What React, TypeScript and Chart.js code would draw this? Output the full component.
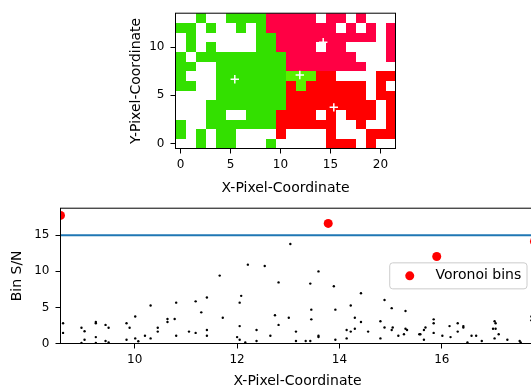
import React, { useEffect, useRef } from 'react';
import { Chart, registerables } from 'chart.js';

Chart.register(...registerables);

const FONT_FAMILY = '"DejaVu Sans", "Liberation Sans", sans-serif';

// ---------- top panel: Voronoi bin map ----------
const mapXTicks = [0, 5, 10, 15, 20];
const mapYTicks = [0, 5, 10];
const mapXRange = [-0.5, 21.5];
const mapYRange = [-0.5, 13.5];
// rows from y = 13 (top) down to y = 0; G green, L light green, C crimson, R red, W empty
const mapRows = [
  'WWGWWGGGGCCCCCWCCWCWWW',
  'GGWGWWGWGCCCCCCCWCWCWC',
  'WGWWWWWWGGCCCCCCCCCCWC',
  'WGWGWWWWGGCCCCWCCWWWWC',
  'GWGGGGGGGGGCCCCCCCWWWC',
  'GGWWGGGGGGGCCCCCCCCWWW',
  'GWWWGGGGGGGLLLRRWWWWRR',
  'GGWWGGGGGGGRLRRRRRRWRW',
  'WWWWGGGGGGGRRRRRRRRWRR',
  'WWWGGGGGGGGRRRRRRRRRWR',
  'WWWGGWWGGGRRRRWRWRRRWR',
  'GWWGGGGGGGRRRRRRWWRWWR',
  'GWGWGGWWWWRWWWWRWWWRRR',
  'WWGWGGWWWGWWWWWRRRWRWW',
];
const binColorKeys = ['G', 'L', 'C', 'R'];
const binColorValues = ['#33e000', '#5af000', '#ff0044', '#ff0000'];
const nodeX = [5.43, 11.93, 14.27, 15.33];
const nodeY = [6.66, 7.1, 10.5, 3.76];

// ---------- bottom panel: S/N per pixel ----------
const pixelX = [
  8.6, 8.6, 8.96, 9.02, 9.02, 8.96, 9.24, 9.24, 9.24, 9.24, 9.43, 9.49, 9.43, 9.49, 9.84, 9.9, 9.84,
  10.01, 10.01, 10.07, 10.2, 10.31, 10.31, 10.45, 10.45, 10.64, 10.64, 10.78, 10.81, 10.81, 11.06,
  11.19, 11.19, 11.3, 11.41, 11.41, 11.41,
  13.04, 12.21, 12.54, 11.66, 13.59, 12.81, 13.43, 13.89, 14.42, 12.08, 12.05, 14.22, 13.45, 13.92,
  12.74, 11.72, 13.01, 13.45, 14.3, 14.42, 12.81, 12.05, 12.38, 13.15, 14.14, 14.22, 14.3, 14.56,
  12.65, 13.59, 13.59, 12.0, 12.05, 12.16, 12.38, 13.15, 13.34, 13.43, 13.92, 14.14,
  14.88, 15.02, 15.29, 14.8, 14.88, 14.8, 15.02, 15.04, 15.15, 15.26, 15.29, 15.32, 15.56, 15.58,
  15.65, 15.68, 15.65, 15.84, 15.84, 15.84, 16.01, 16.15, 16.17, 16.31, 16.31, 16.42, 16.42, 16.5,
  16.58, 16.67, 16.78, 17.03, 17.05, 17.0, 17.05, 17.03, 17.11, 17.28, 17.52, 17.54, 17.75, 17.75,
];
const pixelSN = [
  2.81, 1.47, 2.18, 1.69, 0.53, 0.08, 2.98, 2.8, 0.89, 0.08, 2.58, 2.18, 0.35, 0.13, 2.81, 2.18, 0.53,
  3.75, 0.71, 0.31, 1.07, 5.26, 0.71, 2.18, 1.65, 3.39, 2.98, 3.39, 5.66, 1.07, 1.65,
  5.84, 1.47, 4.32, 6.37, 1.87, 1.07,
  13.79, 10.93, 10.75, 9.41, 9.99, 8.47, 8.3, 7.94, 6.96, 6.6, 5.66, 5.26, 4.69, 4.69,
  3.92, 3.56, 3.56, 3.35, 3.56, 2.98, 2.58, 2.41, 1.87, 1.65, 1.87, 1.65, 2.05, 1.65,
  1.07, 1.07, 0.9, 0.89, 0.53, 0.13, 0.35, 0.35, 0.35, 0.35, 0.53, 0.71,
  6.02, 4.9, 4.5, 3.08, 2.22, 0.71, 1.87, 2.22, 1.07, 1.29, 2.05, 1.87, 1.29, 1.29,
  1.87, 2.22, 0.53, 3.35, 2.81, 1.47, 1.07, 2.41, 0.89, 2.81, 1.65, 2.41, 2.22, 0.13,
  1.07, 1.07, 0.35, 3.08, 2.81, 2.05, 2.05, 0.71, 1.29, 0.53, 0.35, 0.13, 3.75, 3.21,
];
const binX = [8.55, 13.78, 15.9, 17.81];
const binSN = [17.75, 16.64, 12.05, 14.14];
const targetSN = 15;
const snXTicks = [10, 12, 14, 16];
const snYTicks = [0, 5, 10, 15];
const snYMax = 18.75;

const tickFont = { family: FONT_FAMILY, size: 12 };
const labelFont = { family: FONT_FAMILY, size: 14 };

function fixedTicks(values: number[]) {
  return (scale: any) => {
    scale.ticks = values.map((v) => ({ value: v }));
  };
}

const axisGrid = {
  drawOnChartArea: false,
  drawTicks: true,
  tickLength: 5,
  tickColor: '#000',
  tickWidth: 1,
};

const framePlugin = {
  id: 'frame',
  afterDraw(chart: any) {
    const { ctx, chartArea: a } = chart;
    ctx.save();
    ctx.strokeStyle = '#000';
    ctx.lineWidth = 1;
    ctx.strokeRect(a.left, a.top, a.right - a.left, a.bottom - a.top);
    ctx.restore();
  },
};

const mapPlugin = {
  id: 'binMap',
  beforeDatasetsDraw(chart: any) {
    const { ctx, chartArea: a, scales } = chart;
    const xs = scales.x;
    const ys = scales.y;
    ctx.save();
    ctx.beginPath();
    ctx.rect(a.left, a.top, a.right - a.left, a.bottom - a.top);
    ctx.clip();
    const nRows = mapRows.length;
    mapRows.forEach((row, r) => {
      const yv = nRows - 1 - r;
      for (let c = 0; c < row.length; c++) {
        const k = binColorKeys.indexOf(row[c]);
        if (k < 0) continue;
        const x0 = Math.round(xs.getPixelForValue(c - 0.5));
        const x1 = Math.round(xs.getPixelForValue(c + 0.5));
        const y0 = Math.round(ys.getPixelForValue(yv + 0.5));
        const y1 = Math.round(ys.getPixelForValue(yv - 0.5));
        ctx.fillStyle = binColorValues[k];
        ctx.fillRect(x0, y0, x1 - x0, y1 - y0);
      }
    });
    ctx.restore();
  },
};

const legendPlugin = {
  id: 'binLegend',
  afterDraw(chart: any) {
    const { ctx, chartArea: a } = chart;
    const fs = 14.3;
    const text = 'Voronoi bins';
    ctx.save();
    ctx.font = `14px ${FONT_FAMILY}`;
    const tw = ctx.measureText(text).width;
    const w = fs * 0.4 + fs * 2 + fs * 0.8 + tw + fs * 0.4;
    const h = 26;
    const right = a.right - 7.5;
    const left = right - w;
    const cy = (a.top + a.bottom) / 2;
    const top = cy - h / 2;
    const rad = 3;
    ctx.beginPath();
    ctx.moveTo(left + rad, top);
    ctx.lineTo(left + w - rad, top);
    ctx.arcTo(left + w, top, left + w, top + rad, rad);
    ctx.lineTo(left + w, top + h - rad);
    ctx.arcTo(left + w, top + h, left + w - rad, top + h, rad);
    ctx.lineTo(left + rad, top + h);
    ctx.arcTo(left, top + h, left, top + h - rad, rad);
    ctx.lineTo(left, top + rad);
    ctx.arcTo(left, top, left + rad, top, rad);
    ctx.closePath();
    ctx.fillStyle = 'rgba(255,255,255,0.8)';
    ctx.fill();
    ctx.strokeStyle = '#cccccc';
    ctx.lineWidth = 1;
    ctx.stroke();
    ctx.beginPath();
    ctx.arc(left + fs * 0.4 + fs, cy, 4.5, 0, Math.PI * 2);
    ctx.fillStyle = '#ff0000';
    ctx.fill();
    ctx.fillStyle = '#000';
    ctx.textBaseline = 'middle';
    ctx.textAlign = 'left';
    ctx.fillText(text, left + fs * 0.4 + fs * 2 + fs * 0.8, cy);
    ctx.restore();
  },
};

export default function App() {
  const topRef = useRef<HTMLCanvasElement>(null);
  const bottomRef = useRef<HTMLCanvasElement>(null);

  useEffect(() => {
    const topChart = new Chart(topRef.current as HTMLCanvasElement, {
      type: 'scatter',
      data: {
        datasets: [
          {
            label: 'centroids',
            data: nodeX.map((x, i) => ({ x, y: nodeY[i] })),
            pointStyle: 'cross',
            pointRadius: 4.2,
            pointBorderColor: '#ffffff',
            pointBackgroundColor: '#ffffff',
            pointBorderWidth: 1.5,
            clip: 0,
          } as any,
        ],
      },
      options: {
        responsive: false,
        animation: false,
        events: [],
        layout: { padding: { left: 115.5, right: 135.5, top: 8.5, bottom: 3.1 } },
        plugins: { legend: { display: false }, tooltip: { enabled: false } },
        scales: {
          x: {
            type: 'linear',
            min: mapXRange[0],
            max: mapXRange[1],
            afterBuildTicks: fixedTicks(mapXTicks),
            afterFit: (s: any) => {
              s.height = 48.4;
            },
            grid: axisGrid,
            border: { display: false },
            ticks: { color: '#000', font: tickFont, padding: 4, autoSkip: false, maxRotation: 0 },
            title: { display: true, text: 'X-Pixel-Coordinate', color: '#000', font: labelFont, padding: { top: 0, bottom: 0 } },
          },
          y: {
            type: 'linear',
            min: mapYRange[0],
            max: mapYRange[1],
            afterBuildTicks: fixedTicks(mapYTicks),
            afterFit: (s: any) => {
              s.width = 60;
            },
            grid: axisGrid,
            border: { display: false },
            ticks: { color: '#000', font: tickFont, padding: 6, autoSkip: false },
            title: { display: true, text: 'Y-Pixel-Coordinate', color: '#000', font: labelFont, padding: { top: 12.1, bottom: 0 } },
          },
        },
      } as any,
      plugins: [mapPlugin, framePlugin],
    });

    const bottomChart = new Chart(bottomRef.current as HTMLCanvasElement, {
      type: 'scatter',
      data: {
        datasets: [
          {
            label: 'pixels',
            data: pixelX.map((x, i) => ({ x, y: pixelSN[i] })),
            pointStyle: 'circle',
            pointRadius: 1.2,
            pointBorderWidth: 0,
            pointBackgroundColor: '#000000',
            clip: 0,
          } as any,
          {
            label: 'target',
            data: [
              { x: Math.min(...binX), y: targetSN },
              { x: Math.max(...binX), y: targetSN },
            ],
            showLine: true,
            borderColor: '#1f77b4',
            borderWidth: 2,
            pointRadius: 0,
            clip: 0,
          } as any,
          {
            label: 'Voronoi bins',
            data: binX.map((x, i) => ({ x, y: binSN[i] })),
            pointStyle: 'circle',
            pointRadius: 4.5,
            pointBorderWidth: 0,
            pointBackgroundColor: '#ff0000',
            clip: 0,
          } as any,
        ],
      },
      options: {
        responsive: false,
        animation: false,
        events: [],
        layout: { padding: { left: 5.5, right: 25.5, top: 8.5, bottom: 1.1 } },
        plugins: { legend: { display: false }, tooltip: { enabled: false } },
        scales: {
          x: {
            type: 'linear',
            min: Math.min(...binX),
            max: Math.max(...binX),
            afterBuildTicks: fixedTicks(snXTicks),
            afterFit: (s: any) => {
              s.height = 46.4;
            },
            grid: axisGrid,
            border: { display: false },
            ticks: { color: '#000', font: tickFont, padding: 4, autoSkip: false, maxRotation: 0 },
            title: { display: true, text: 'X-Pixel-Coordinate', color: '#000', font: labelFont, padding: { top: 0, bottom: 0 } },
          },
          y: {
            type: 'linear',
            min: 0,
            max: snYMax,
            afterBuildTicks: fixedTicks(snYTicks),
            afterFit: (s: any) => {
              s.width = 55;
            },
            grid: axisGrid,
            border: { display: false },
            ticks: { color: '#000', font: tickFont, padding: 6, autoSkip: false },
            title: { display: true, text: 'Bin S/N', color: '#000', font: labelFont, padding: { top: 3.6, bottom: 0 } },
          },
        },
      } as any,
      plugins: [framePlugin, legendPlugin],
    });

    return () => {
      topChart.destroy();
      bottomChart.destroy();
    };
  }, []);

  return (
    <div
      style={{
        position: 'absolute',
        left: 0,
        top: 0,
        width: 531,
        height: 391,
        overflow: 'hidden',
        background: '#ffffff',
      }}
    >
      <canvas
        ref={topRef}
        width={531}
        height={200}
        style={{ position: 'absolute', left: 0, top: 0, width: 531, height: 200 }}
      />
      <canvas
        ref={bottomRef}
        width={560}
        height={196}
        style={{ position: 'absolute', left: 0, top: 195, width: 560, height: 196 }}
      />
    </div>
  );
}
